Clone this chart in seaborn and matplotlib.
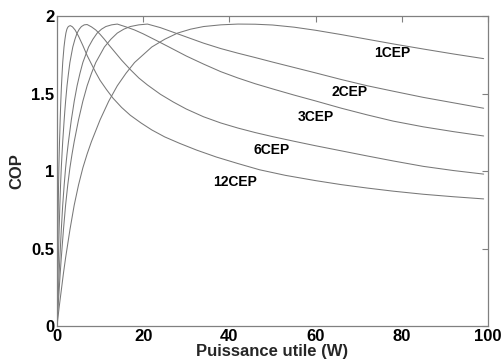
import matplotlib
matplotlib.use("Agg")
import matplotlib.pyplot as plt
import seaborn as sns
import pandas as pd

sns.set_style("white")
plt.rcParams['font.family'] = ['Liberation Sans', 'DejaVu Sans']
plt.rcParams['font.weight'] = 'bold'

# ---- data ----
labels = ["1CEP", "2CEP", "3CEP", "6CEP", "12CEP"]

x_1cep = [0, 0.5, 1, 1.5, 2, 3, 4, 5, 6, 7, 8, 9, 10, 11, 12, 14, 16, 18, 20, 22, 25, 28, 31, 34, 38, 42,
          46, 50, 55, 60, 66, 72, 78, 85, 92, 99]
y_1cep = [0, 0.12, 0.23, 0.34, 0.44, 0.62, 0.78, 0.91, 1.02, 1.11, 1.19, 1.26, 1.33, 1.39, 1.45, 1.55, 1.63,
          1.70, 1.75, 1.80, 1.85, 1.89, 1.915, 1.932, 1.943, 1.948,
          1.947, 1.942, 1.928, 1.908, 1.88, 1.85, 1.82, 1.787, 1.755, 1.725]

x_2cep = [0, 0.25, 0.5, 0.75, 1, 1.5, 2, 2.5, 3, 3.5, 4, 4.5, 5, 5.5, 6, 7, 8, 9, 10, 11, 12.5, 14, 15.5, 17, 19, 21,
          24, 27, 30, 34, 38, 42, 46, 50, 55, 60, 66, 72, 78, 85, 92, 99]
y_2cep = [0, 0.12, 0.23, 0.34, 0.44, 0.62, 0.78, 0.91, 1.02, 1.11, 1.19, 1.26, 1.33, 1.39, 1.45, 1.55, 1.63,
          1.70, 1.75, 1.80, 1.85, 1.89, 1.915, 1.932, 1.943, 1.948,
          1.925, 1.895, 1.865, 1.825, 1.79, 1.76, 1.732, 1.703, 1.668, 1.633, 1.59, 1.55, 1.515, 1.475, 1.44, 1.405]

x_3cep = [0, 0.17, 0.33, 0.5, 0.67, 1, 1.33, 1.67, 2, 2.33, 2.67, 3, 3.33, 3.67, 4, 4.67, 5.33, 6, 6.67, 7.33,
          8.33, 9.33, 10.33, 11.33, 12.67, 14,
          16, 18, 20, 23, 26, 30, 34, 38, 42, 46, 50, 55, 60, 66, 72, 78, 85, 92, 99]
y_3cep = [0, 0.12, 0.23, 0.34, 0.44, 0.62, 0.78, 0.91, 1.02, 1.11, 1.19, 1.26, 1.33, 1.39, 1.45, 1.55, 1.63,
          1.70, 1.75, 1.80, 1.85, 1.89, 1.915, 1.932, 1.943, 1.948,
          1.93, 1.91, 1.885, 1.843, 1.80, 1.742, 1.69, 1.641, 1.60, 1.563, 1.53, 1.49, 1.452, 1.405, 1.362,
          1.322, 1.285, 1.254, 1.226]

x_6cep = [0, 0.08, 0.17, 0.25, 0.33, 0.5, 0.67, 0.83, 1, 1.17, 1.33, 1.5, 1.67, 1.83, 2, 2.33, 2.67, 3, 3.33,
          3.67, 4.17, 4.67, 5.17, 5.67, 6.33, 7,
          8, 9, 10, 11, 12, 13.5, 15, 17, 19, 21, 24, 27, 30, 34, 38, 42, 46, 50, 55, 60, 66, 72, 78, 85, 92, 99]
y_6cep = [0, 0.12, 0.23, 0.34, 0.44, 0.62, 0.78, 0.91, 1.02, 1.11, 1.19, 1.26, 1.33, 1.39, 1.45, 1.55, 1.63,
          1.70, 1.75, 1.80, 1.85, 1.89, 1.915, 1.932, 1.943, 1.945,
          1.93, 1.91, 1.882, 1.85, 1.815, 1.765, 1.715, 1.655, 1.60, 1.555, 1.495, 1.445, 1.40, 1.35, 1.31,
          1.277, 1.248, 1.222, 1.192, 1.163, 1.13, 1.097, 1.065, 1.03, 1.003, 0.98]

x_12cep = [0, 0.04, 0.07, 0.11, 0.15, 0.22, 0.3, 0.37, 0.44, 0.52, 0.59, 0.67, 0.74, 0.81, 0.89, 1.04, 1.19,
           1.33, 1.48, 1.63, 1.85, 2.07, 2.3, 2.52, 2.81, 3.1,
           3.6, 4.2, 5, 6, 7, 8, 9, 10, 11.5, 13, 15, 17, 19.5, 22, 25, 28.5, 32.4, 37, 42, 47, 53, 60, 66,
           72, 78, 85, 92, 99]
y_12cep = [0, 0.12, 0.23, 0.34, 0.44, 0.62, 0.78, 0.91, 1.02, 1.11, 1.19, 1.26, 1.33, 1.39, 1.45, 1.55, 1.63,
           1.70, 1.75, 1.80, 1.85, 1.89, 1.915, 1.928, 1.935, 1.938,
           1.93, 1.91, 1.87, 1.81, 1.745, 1.69, 1.635, 1.585, 1.525, 1.47, 1.41, 1.36, 1.31, 1.265, 1.22,
           1.178, 1.135, 1.09, 1.048, 1.008, 0.972, 0.938, 0.912, 0.89, 0.87, 0.85, 0.834, 0.82]

label_x = [77.7, 67.9, 60.0, 49.9, 41.4]
label_y = [1.76, 1.51, 1.348, 1.135, 0.93]

xticks = [0, 20, 40, 60, 80, 100]
yticks = [0, 0.5, 1, 1.5, 2]
ytick_labels = ["0", "0.5", "1", "1.5", "2"]

series = [(x_1cep, y_1cep), (x_2cep, y_2cep), (x_3cep, y_3cep), (x_6cep, y_6cep), (x_12cep, y_12cep)]

# ---- figure ----
fig = plt.figure(figsize=(5.02, 3.63), dpi=100)
ax = fig.add_axes([0.1135, 0.1019, 0.8585, 0.8540])

line_color = "#787878"
for name, (xs, ys) in zip(labels, series):
    df = pd.DataFrame({"P": xs, "COP": ys})
    sns.lineplot(data=df, x="P", y="COP", ax=ax, color=line_color, linewidth=0.75,
                 sort=False, estimator=None)

for name, lx, ly in zip(labels, label_x, label_y):
    ax.text(lx, ly, name, fontsize=10, fontweight='bold', ha='center', va='center', color='black')

ax.set_xlim(0, 100)
ax.set_ylim(0, 2)
ax.set_xticks(xticks)
ax.set_yticks(yticks)
ax.set_yticklabels(ytick_labels)
ax.tick_params(direction='in', length=4, width=0.8, color='#808080', top=True, right=True,
               labelsize=12, pad=2, labelcolor='black')
for lab in ax.get_xticklabels() + ax.get_yticklabels():
    lab.set_fontweight('bold')

for sp in ax.spines.values():
    sp.set_color('#808080')
    sp.set_linewidth(0.9)

ax.set_xlabel("Puissance utile (W)", fontsize=12, fontweight='bold', labelpad=0)
ax.set_ylabel("COP", fontsize=12, fontweight='bold', labelpad=5)

fig.savefig("out.png", dpi=100)
